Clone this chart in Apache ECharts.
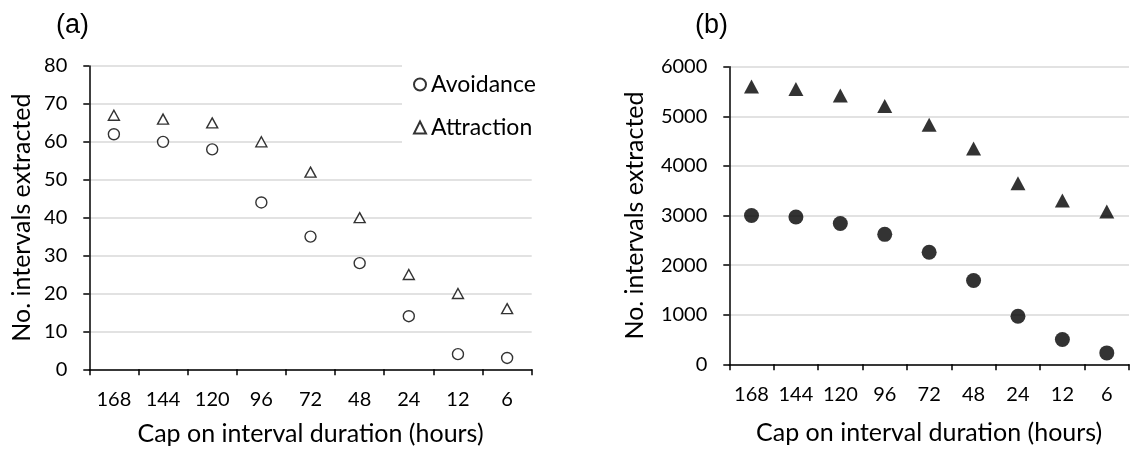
<!DOCTYPE html>
<html>
<head>
<meta charset="utf-8">
<script src="https://cdn.jsdelivr.net/npm/echarts@6/dist/echarts.min.js"></script>
<style>
html,body{margin:0;padding:0;background:#fff;}
#c{width:1130px;height:450px;}
</style>
</head>
<body>
<div id="c"></div>
<script>
const categories = ['168','144','120','96','72','48','24','12','6'];
const avoidanceA = [62, 60, 58, 44, 35, 28, 14, 4, 3];
const attractionA = [67, 66, 65, 60, 52, 40, 25, 20, 16];
const avoidanceB = [3000, 2970, 2840, 2620, 2260, 1690, 970, 500, 230];
const attractionB = [5600, 5550, 5420, 5210, 4830, 4350, 3650, 3300, 3080];
const xTitle = 'Cap on interval duration (hours)';
const yTitle = 'No. intervals extracted';

const FONT = 'Lato';
const lbl = {color:'#000', fontFamily:FONT, fontSize:20};
const nm = {color:'#000', fontFamily:FONT, fontSize:25};

function xAxis(gridIndex, nameGap){
  return {
    type:'category', gridIndex, data:categories, boundaryGap:true,
    name:xTitle, nameLocation:'middle', nameGap,
    nameTextStyle:Object.assign({}, nm),
    axisLine:{lineStyle:{color:'#000', width:1.5}},
    axisTick:{show:true, length:6, interval:0, lineStyle:{color:'#000', width:1.5}},
    axisLabel:Object.assign({margin:20, interval:0}, lbl),
    splitLine:{show:false}
  };
}
function yAxis(gridIndex, max, interval, nameGap){
  return {
    type:'value', gridIndex, min:0, max, interval,
    name:yTitle, nameLocation:'middle', nameGap,
    nameTextStyle:Object.assign({}, nm),
    axisLine:{show:true, lineStyle:{color:'#000', width:1.5}},
    axisTick:{show:true, length:6, lineStyle:{color:'#000', width:1.5}},
    axisLabel:Object.assign({margin:22, formatter:(v)=>String(v)}, lbl),
    splitLine:{show:true, lineStyle:{color:'#d9d9d9', width:1.5}}
  };
}

const chart = echarts.init(document.getElementById('c'), null, {renderer:'canvas'});
chart.setOption({
  animation:false,
  backgroundColor:'#fff',
  title:[
    {text:'(a)', left:51, top:7, textStyle:{color:'#000', fontFamily:'Liberation Sans', fontSize:27, fontWeight:'normal'}},
    {text:'(b)', left:690, top:7, textStyle:{color:'#000', fontFamily:'Liberation Sans', fontSize:27, fontWeight:'normal'}}
  ],
  legend:{
    data:['Avoidance','Attraction'],
    orient:'vertical', left:402, top:58,
    padding:[15,20,15,11],
    itemGap:20, itemWidth:12, itemHeight:12,
    backgroundColor:'#fff',
    textStyle:Object.assign({}, nm, {fontSize:23}),
    z:10
  },
  grid:[
    {left:89.3, right:598.3, top:66, bottom:80.7, outerBoundsMode:'none'},
    {left:729.3, right:1, top:66.7, bottom:85.7, outerBoundsMode:'none'}
  ],
  xAxis:[xAxis(0, 52), xAxis(1, 56)],
  yAxis:[yAxis(0, 80, 10, 55), yAxis(1, 6000, 1000, 82)],
  series:[
    {name:'Avoidance', type:'scatter', xAxisIndex:0, yAxisIndex:0, data:avoidanceA,
     symbol:'circle', symbolSize:11,
     itemStyle:{color:'#fff', borderColor:'#000', borderWidth:1.4}},
    {name:'Attraction', type:'scatter', xAxisIndex:0, yAxisIndex:0, data:attractionA,
     symbol:'triangle', symbolSize:[11,10],
     itemStyle:{color:'#fff', borderColor:'#000', borderWidth:1.4}},
    {name:'Avoidance (b)', type:'scatter', xAxisIndex:1, yAxisIndex:1, data:avoidanceB,
     symbol:'circle', symbolSize:15,
     itemStyle:{color:'#000'}},
    {name:'Attraction (b)', type:'scatter', xAxisIndex:1, yAxisIndex:1, data:attractionB,
     symbol:'triangle', symbolSize:[15,14],
     itemStyle:{color:'#000'}}
  ]
});
</script>
</body>
</html>
